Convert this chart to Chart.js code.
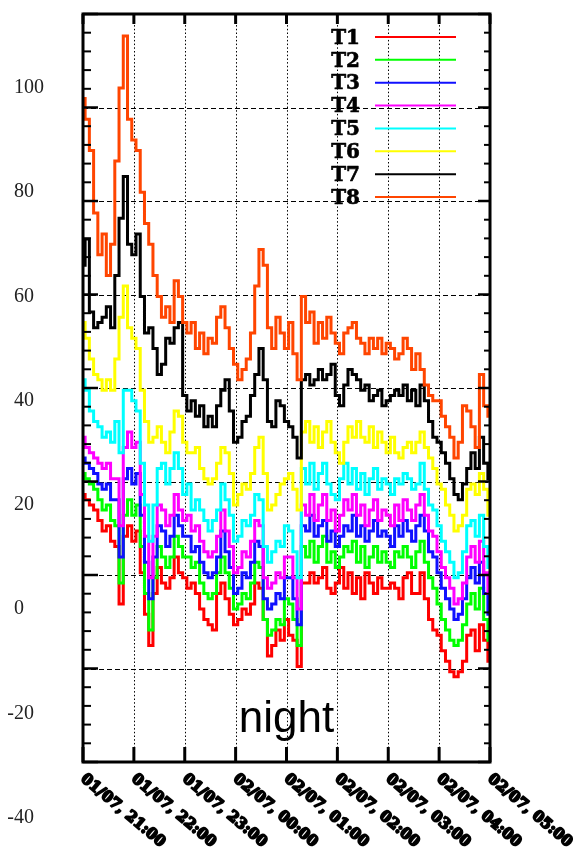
<!DOCTYPE html>
<html><head><meta charset="utf-8">
<script src="https://cdn.jsdelivr.net/npm/chart.js@4.4.0/dist/chart.umd.min.js"></script>
<style>html,body{margin:0;padding:0;background:#fff;}canvas{display:block;}</style>
</head><body>
<canvas id="c" width="573" height="853"></canvas>
<script>
// minutes after 01/07 21:00
const minutes = [0,5,10,15,20,25,30,35,40,45,50,55,60,65,70,75,80,85,90,95,100,105,110,115,120,125,130,135,140,145,150,155,160,165,170,175,180,185,190,195,200,205,210,215,220,225,230,235,240,245,250,255,260,265,270,275,280,285,290,295,300,305,310,315,320,325,330,335,340,345,350,355,360,365,370,375,380,385,390,395,400,405,410,415,420,425,430,435,440,445,450,455,460,465,470,475,480];
const xTickValues = [0,60,120,180,240,300,360,420,480];
const xTickLabels = ["01/07, 21:00","01/07, 22:00","01/07, 23:00","02/07, 00:00","02/07, 01:00","02/07, 02:00","02/07, 03:00","02/07, 04:00","02/07, 05:00"];
const yTickLabels = [100,80,60,40,20,0,-20,-40];
const seriesNames = ["T1","T2","T3","T4","T5","T6","T7","T8"];
const seriesColors = ["#ff0000","#00ff00","#1010ff","#ff00ff","#00ffff","#ffff00","#000000","#ff4500"];

const T1 = [22,21,20,19,17,15,16,13,12,1,14,16, 13,15,7,-1,-7,3,8,5,4,6,10,7, 6,4,5,3,0,-2,-3,-4,3,5,2,-1, -3,-2,0,-1,1,5,4,-2,-9,-7,-4,-6, -2,-5,-6,-11,5,5,7,5,6,8,4,3, 5,8,4,7,3,6,2,7,5,3,6,4, 4,5,4,2,6,7,3,3,7,2,-2,-4, -5,-8,-10,-12,-13,-12,-10,-5,-4,-8,-3,-6, -10];
const T2 = [26,25,24,23,21,19,20,17,16,5,18,21, 18,20,12,3,-4,6,12,10,8,10,14,12, 10,10,8,9,5,3,2,3,7,10,7,4, 0,1,3,2,5,9,8,-2,-5,-4,-2,-3, 2,1,-2,-7,12,10,13,9,12,14,9,11, 8,10,12,11,13,9,12,8,10,12,9,11, 9,8,11,10,12,10,8,11,13,9,6,4, 1,-2,-4,-6,-7,-6,-3,1,3,0,4,-2, -6];
const T3 = [29,28,27,26,24,23,24,21,21,10,25,27, 24,26,18,9,2,10,16,15,12,14,18,16, 14,14,11,12,9,7,6,7,10,15,11,8, 3,4,7,6,9,13,12,2,0,1,3,2, 6,6,2,-3,16,15,18,14,16,17,13,15, 12,14,16,15,18,14,16,13,15,17,14,15, 14,12,16,14,17,15,13,16,18,15,11,10, 7,4,2,0,-2,-1,2,6,8,5,9,3, -1];
const T4 = [33,31,30,29,28,27,28,25,25,16,31,34, 31,32,22,14,6,14,20,19,16,18,22,19, 17,18,15,16,13,11,10,11,14,19,15,12, 7,8,11,10,13,17,16,6,4,5,7,6, 10,10,6,0,20,18,22,17,20,22,17,19, 15,18,21,19,22,18,20,16,19,21,17,19, 18,16,20,17,21,19,17,20,22,18,15,14, 11,8,6,4,1,2,5,10,12,9,13,7, 3];
const T5 = [44,42,38,36,35,33,34,32,36,30,42,42, 40,38,28,20,13,20,27,28,24,27,30,27, 22,24,19,21,19,17,15,17,19,24,21,18, 13,14,17,16,18,22,21,12,9,11,13,12, 16,15,11,6,27,24,28,23,26,28,24,22, 21,25,28,24,27,23,26,22,25,27,23,25, 24,22,25,24,26,25,23,24,28,23,20,19, 16,13,11,9,6,7,11,16,17,14,18,12, 8];
const T6 = [55,52,48,45,44,42,44,42,48,56,62,54, 52,50,42,36,32,33,35,32,30,34,38,37, 32,30,30,31,27,25,24,25,28,31,30,26, 20,22,24,23,26,31,33,26,19,20,22,24, 25,26,23,19,34,36,32,35,31,34,36,32, 30,28,32,35,33,36,33,32,35,31,34,32, 30,33,30,29,31,32,30,32,34,31,29,27, 24,23,20,18,15,16,18,23,24,22,26,23, 18];
const T7 = [66,71,57,54,55,56,58,54,64,75,83,70, 68,72,60,53,54,50,45,47,52,51,54,55, 41,38,40,37,39,35,37,35,39,42,44,38, 32,33,36,37,41,45,50,44,36,35,40,39, 36,35,33,29,44,45,43,44,46,44,45,47, 41,39,43,46,45,44,42,43,40,41,42,39, 40,41,42,41,43,40,42,39,43,40,36,33, 32,30,28,25,22,21,24,27,30,27,33,28, 25];
const T8 = [98,94,88,76,68,72,64,70,86,100,110,94, 90,88,80,74,70,64,60,56,58,55,63,60, 55,53,55,50,53,49,52,51,56,58,54,50, 47,44,46,48,53,62,69,66,54,50,56,53, 50,55,49,44,60,55,57,51,55,52,56,53, 51,49,53,54,55,52,51,49,52,50,52,49, 51,50,48,49,52,50,46,49,46,43,41,40, 40,37,35,33,29,32,39,38,35,31,45,39, 37];
const allSeries = [T1,T2,T3,T4,T5,T6,T7,T8];

const yMin = -29.34, yMax = 114.2;

const decor = {
  id: 'decor',
  beforeDatasetsDraw(chart) {
    const {ctx, chartArea: a, scales: {x, y}} = chart;
    ctx.save();
    ctx.strokeStyle = '#000';
    ctx.lineWidth = 1;
    ctx.setLineDash([5, 3]);
    y.ticks.forEach((t, i) => {
      if (i === 0 || i === y.ticks.length - 1) return;
      const py = Math.round(y.getPixelForValue(t.value)) + 0.5;
      ctx.beginPath(); ctx.moveTo(a.left, py); ctx.lineTo(a.right, py); ctx.stroke();
    });
    ctx.setLineDash([1.5, 2.2]);
    x.ticks.forEach((t, i) => {
      if (i === 0 || i === x.ticks.length - 1) return;
      const px = Math.round(x.getPixelForValue(t.value)) + 0.5;
      ctx.beginPath(); ctx.moveTo(px, a.top); ctx.lineTo(px, a.bottom); ctx.stroke();
    });
    ctx.restore();
  },
  afterDraw(chart) {
    const {ctx, chartArea: a, scales: {x, y}} = chart;
    ctx.save();
    ctx.strokeStyle = '#000';
    ctx.setLineDash([]);
    const yt = y.ticks.map(t => t.value);
    ctx.lineWidth = 2.5;
    yt.forEach(v => {
      const py = y.getPixelForValue(v);
      ctx.beginPath(); ctx.moveTo(a.left, py); ctx.lineTo(a.left + 15, py); ctx.stroke();
      ctx.beginPath(); ctx.moveTo(a.right, py); ctx.lineTo(a.right - 12, py); ctx.stroke();
    });
    ctx.lineWidth = 2;
    for (let i = 0; i < yt.length - 1; i++) {
      for (let j = 1; j < 5; j++) {
        const v = yt[i] + (yt[i + 1] - yt[i]) * j / 5;
        const py = y.getPixelForValue(v);
        ctx.beginPath(); ctx.moveTo(a.left, py); ctx.lineTo(a.left + 8, py); ctx.stroke();
        ctx.beginPath(); ctx.moveTo(a.right, py); ctx.lineTo(a.right - 6, py); ctx.stroke();
      }
    }
    ctx.lineWidth = 3;
    xTickValues.forEach(v => {
      const px = x.getPixelForValue(v);
      ctx.beginPath(); ctx.moveTo(px, a.top); ctx.lineTo(px, a.top + 10); ctx.stroke();
      ctx.beginPath(); ctx.moveTo(px, a.bottom); ctx.lineTo(px, a.bottom - 15); ctx.stroke();
    });
    ctx.lineWidth = 3;
    ctx.strokeRect(a.left, a.top, a.right - a.left, a.bottom - a.top);

    ctx.fillStyle = '#222';
    ctx.font = '20px "Liberation Serif"';
    ctx.textBaseline = 'middle';
    ctx.textAlign = 'left';
    const dash = ctx.measureText('-').width;
    yTickLabels.forEach(v => {
      const py = y.getPixelForValue(v);
      ctx.fillText(String(v), 14 - (v < 0 ? dash : 0), py);
    });

    ctx.font = 'bold 15px "DejaVu Serif"';
    ctx.fillStyle = '#000';
    ctx.strokeStyle = '#000';
    ctx.lineWidth = 1.8;
    ctx.lineJoin = 'round';
    ctx.textBaseline = 'middle';
    ctx.textAlign = 'left';
    xTickValues.forEach((v, i) => {
      const px = x.getPixelForValue(v);
      ctx.save();
      ctx.translate(px - 0.5, a.bottom + 15);
      ctx.rotate(40 * Math.PI / 180);
      ctx.fillText(xTickLabels[i], 0, 0);
      ctx.strokeText(xTickLabels[i], 0, 0);
      ctx.restore();
    });

    ctx.font = 'bold 20px "DejaVu Serif"';
    ctx.textAlign = 'right';
    ctx.textBaseline = 'middle';
    seriesNames.forEach((n, i) => {
      const ly = a.top + 23 + i * 22.86;
      ctx.fillStyle = '#000';
      ctx.strokeStyle = '#000';
      ctx.lineWidth = 0.6;
      ctx.fillText(n, a.left + 277, ly + 1.5);
      ctx.strokeText(n, a.left + 277, ly + 1.5);
      ctx.strokeStyle = seriesColors[i];
      ctx.lineWidth = 2;
      ctx.beginPath(); ctx.moveTo(a.left + 292, ly); ctx.lineTo(a.left + 373, ly); ctx.stroke();
    });

    ctx.fillStyle = '#000';
    ctx.font = '44px "Liberation Sans"';
    ctx.textAlign = 'center';
    ctx.textBaseline = 'alphabetic';
    ctx.fillText('night', (a.left + a.right) / 2, a.bottom - 30);
    ctx.restore();
  }
};

new Chart(document.getElementById('c').getContext('2d'), {
  type: 'line',
  data: {
    datasets: allSeries.map((vals, i) => ({
      label: seriesNames[i],
      data: minutes.map((m, j) => ({x: m, y: vals[j]})),
      borderColor: seriesColors[i],
      backgroundColor: seriesColors[i],
      borderWidth: 3,
      pointRadius: 0,
      stepped: 'middle',
      fill: false,
      order: 8 - i
    }))
  },
  options: {
    responsive: false,
    animation: false,
    devicePixelRatio: 1,
    layout: {padding: {left: 83, right: 83, top: 14, bottom: 91}},
    plugins: {legend: {display: false}, tooltip: {enabled: false}},
    scales: {
      x: {
        type: 'linear', min: 0, max: 480,
        afterBuildTicks: s => { s.ticks = xTickValues.map(v => ({value: v})); },
        ticks: {display: false},
        grid: {display: false, drawTicks: false},
        border: {display: false}
      },
      y: {
        type: 'linear', min: yMin, max: yMax,
        afterBuildTicks: s => {
          const t = [];
          for (let i = 0; i <= 8; i++) t.push({value: yMin + (yMax - yMin) * i / 8});
          s.ticks = t;
        },
        ticks: {display: false},
        grid: {display: false, drawTicks: false},
        border: {display: false}
      }
    }
  },
  plugins: [decor]
});
</script>
</body></html>
